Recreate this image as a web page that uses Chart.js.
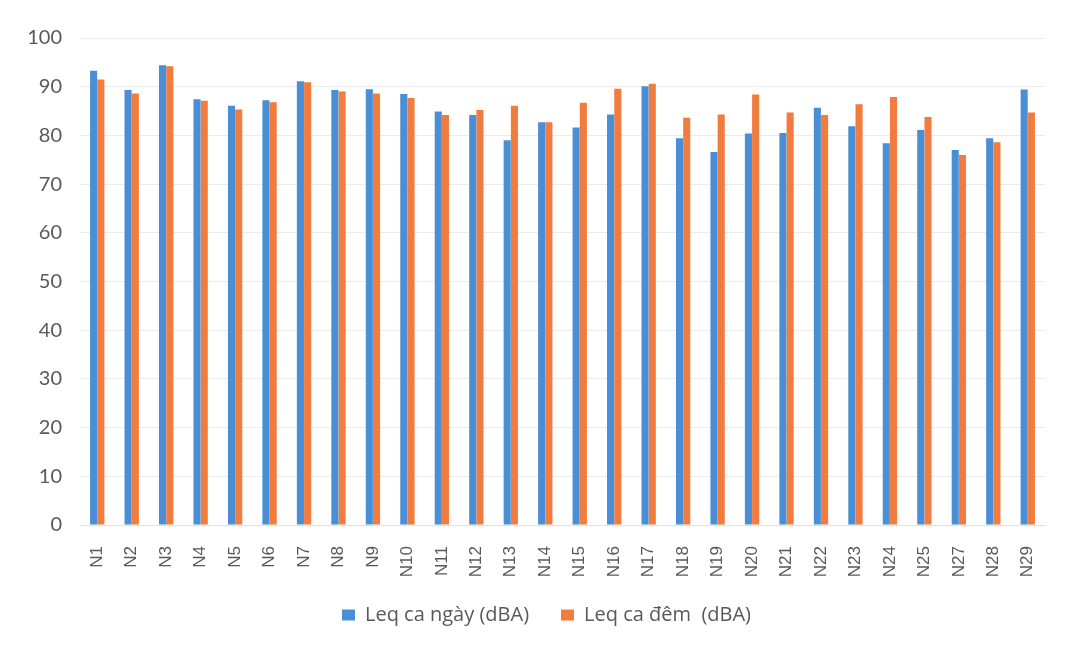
<!DOCTYPE html>
<html>
<head>
<meta charset="utf-8">
<script src="https://cdn.jsdelivr.net/npm/chart.js@4.4.1/dist/chart.umd.min.js"></script>
<style>
  html, body { margin: 0; padding: 0; background: #ffffff; }
  #wrap { width: 1072px; height: 655px; position: relative; }
</style>
</head>
<body>
<div id="wrap"><canvas id="c" width="1072" height="655"></canvas></div>
<script>
const categories = ["N1","N2","N3","N4","N5","N6","N7","N8","N9","N10","N11","N12","N13","N14","N15","N16","N17","N18","N19","N20","N21","N22","N23","N24","N25","N27","N28","N29"];
const dayValues = [93.3, 89.3, 94.4, 87.4, 86.1, 87.2, 91.1, 89.3, 89.5, 88.5, 84.9, 84.2, 79.0, 82.7, 81.6, 84.3, 90.1, 79.4, 76.6, 80.4, 80.5, 85.7, 81.9, 78.4, 81.1, 77.0, 79.4, 89.4];
const nightValues = [91.5, 88.6, 94.2, 87.1, 85.3, 86.8, 90.9, 89.0, 88.6, 87.7, 84.2, 85.2, 86.1, 82.7, 86.7, 89.6, 90.6, 83.6, 84.3, 88.4, 84.7, 84.2, 86.4, 87.9, 83.8, 76.0, 78.6, 84.7];
const seriesNames = ["Leq ca ngày (dBA)", "Leq ca đêm  (dBA)"];
const yTicks = [0, 10, 20, 30, 40, 50, 60, 70, 80, 90, 100];

const legendShift = {
  id: 'legendShift',
  afterLayout(chart) {
    const lg = chart.legend;
    if (lg) { lg.left += 24; lg.right += 24; lg.top -= 10; lg.bottom -= 10; }
  }
};

const ctx = document.getElementById('c').getContext('2d');
new Chart(ctx, {
  type: 'bar',
  data: {
    labels: categories,
    datasets: [
      { label: seriesNames[0], data: dayValues, backgroundColor: '#4a8ed6', borderWidth: 0, categoryPercentage: 0.42, barPercentage: 0.98 },
      { label: seriesNames[1], data: nightValues, backgroundColor: '#f27b3e', borderWidth: 0, categoryPercentage: 0.42, barPercentage: 0.98 }
    ]
  },
  plugins: [legendShift],
  options: {
    responsive: false,
    animation: false,
    layout: { padding: { top: 38, right: 27, bottom: 10, left: 0 } },
    plugins: {
      tooltip: { enabled: false },
      legend: {
        position: 'bottom',
        labels: {
          font: { family: 'Open Sans', size: 20 },
          color: '#595959',
          boxWidth: 13,
          boxHeight: 11,
          padding: 32
        }
      }
    },
    scales: {
      x: {
        grid: { display: false },
        border: { display: true, color: '#e0e0e0' },
        ticks: {
          minRotation: 90, maxRotation: 90,
          autoSkip: false,
          padding: 13,
          color: '#595959',
          font: { family: 'Liberation Sans', size: 17 }
        },
        afterFit: (s) => { s.height = 58; }
      },
      y: {
        min: 0, max: 100,
        afterBuildTicks: (s) => { s.ticks = yTicks.map(v => ({ value: v })); },
        grid: { color: '#ebebeb', drawTicks: false },
        border: { display: false },
        ticks: {
          padding: 18,
          color: '#595959',
          font: { family: 'Lato', size: 20 }
        },
        afterFit: (s) => { s.width = 80; }
      }
    }
  }
});
</script>
</body>
</html>
